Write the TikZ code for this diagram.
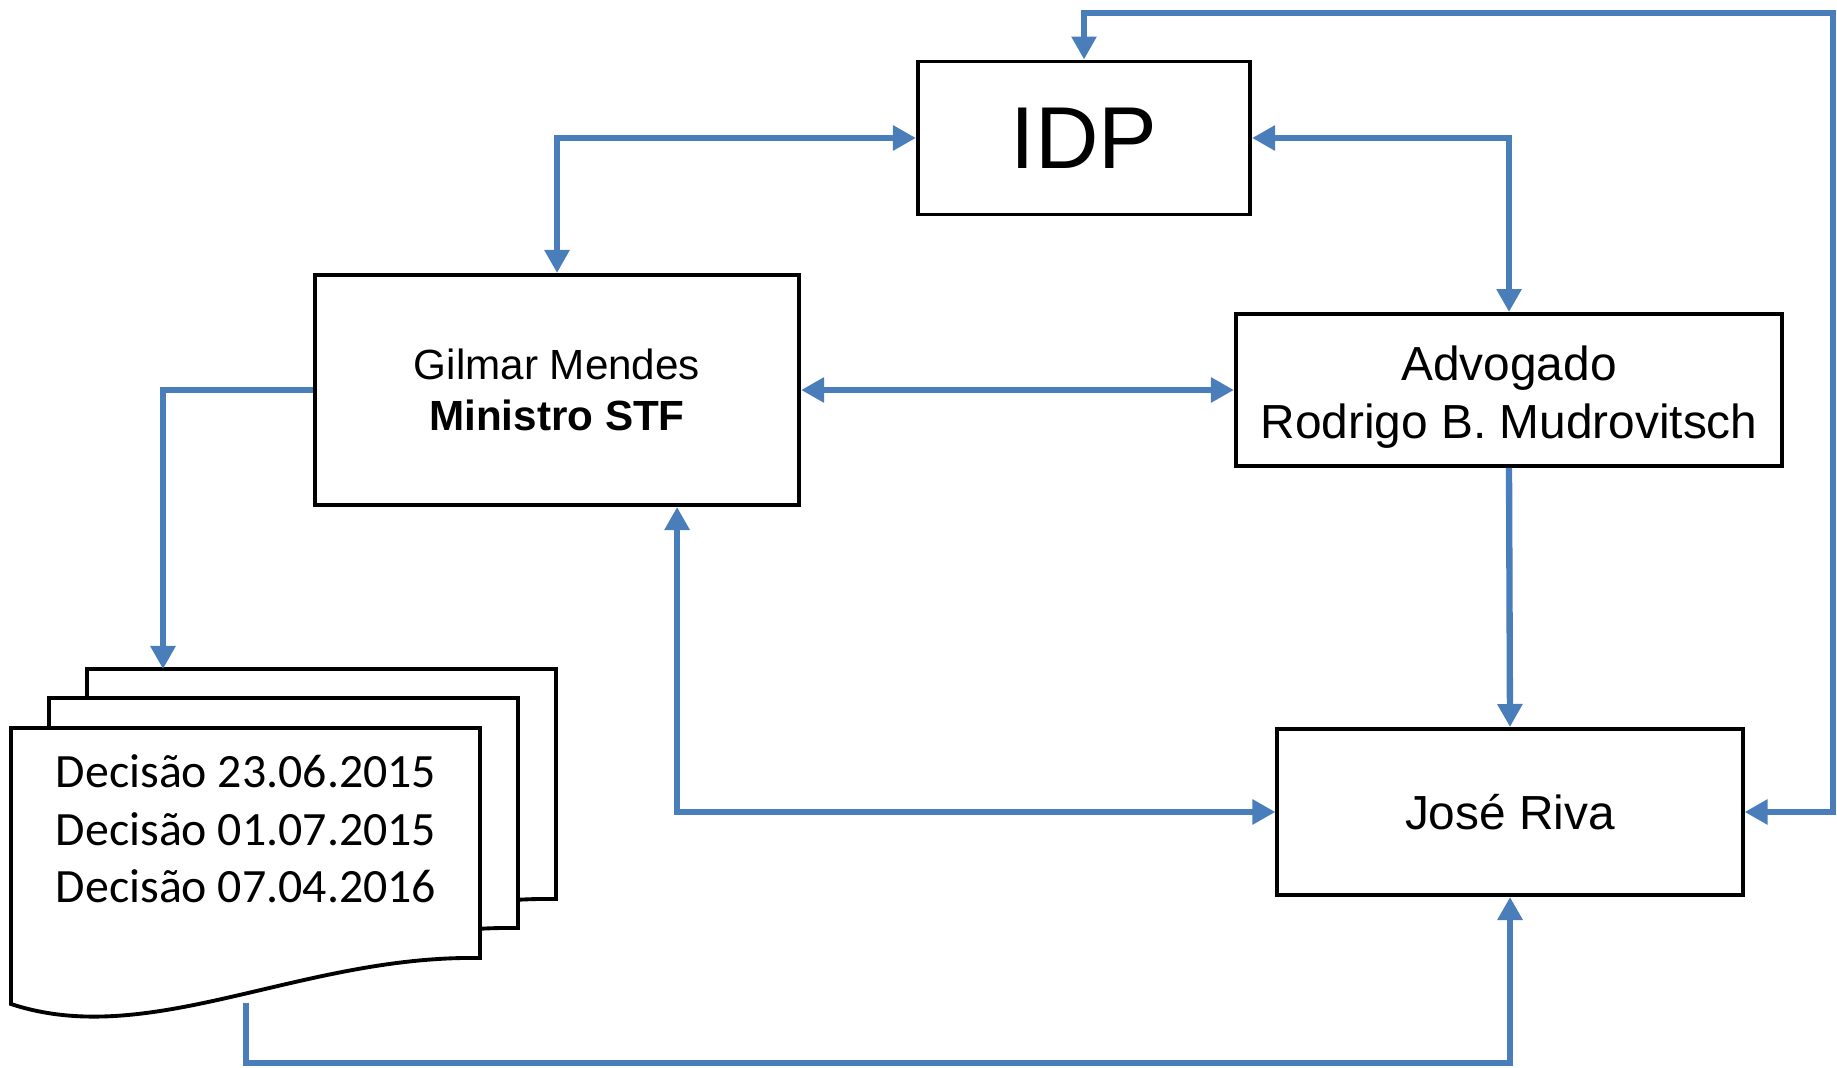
\documentclass[tikz,border=0pt]{standalone}
\usepackage{fontspec}
\setmainfont{Liberation Sans}
\newfontfamily\calib{Carlito}
\usetikzlibrary{arrows.meta}
\definecolor{linkblue}{HTML}{4A7EBB}
\tikzset{
  box/.style={draw=black,line width=1.1pt,fill=white,inner sep=2pt},
  sheet/.style={draw=black,line width=1.1pt,fill=white},
  link/.style={draw=linkblue,line width=1.8pt},
}

\begin{document}
\begin{tikzpicture}[x=0.01cm,y=-0.01cm,>={Triangle[length=0.23cm,width=0.24cm]}]
\useasboundingbox (0,0) rectangle (1837,1067);
% stack of decisions
\foreach \dx/\dy in {76/-59,38/-30,0/0}{
  \draw[sheet,shift={(\dx,\dy)}] (11,728) -- (480,728) -- (480,958)
    .. controls (300,955) and (150,1050) .. (11,1004) -- cycle;
}
\node[align=left,font=\calib\fontsize{13.6}{16.4}\selectfont] (dec) at (246,829)
  {Decisão 23.06.2015\\Decisão 01.07.2015\\Decisão 07.04.2016};
\coordinate (docTop) at (163,669);
\coordinate (docBot) at (246,1003);
\coordinate (botBend) at (246,1063);
% boxes
\node[box,minimum width=3.32cm,minimum height=1.53cm,font=\fontsize{25}{30}\selectfont] (idp) at (1084,138) {IDP};
\node[box,minimum width=4.84cm,minimum height=2.30cm,align=center,font=\fontsize{12}{14.6}\selectfont] (gil) at (557,390)
  {Gilmar Mendes\\\textbf{Ministro STF}};
\node[box,minimum width=5.46cm,minimum height=1.52cm] (adv) at (1509,390) {};
\node[align=center,font=\fontsize{13.6}{16.4}\selectfont] (advName) at (1509,397)
  {Advogado\\Rodrigo B. Mudrovitsch};
\node[box,minimum width=4.65cm,minimum height=1.66cm,font=\fontsize{13.6}{16.4}\selectfont] (jose) at (1510,812) {José Riva};
\coordinate (gilFoot) at ([xshift=1.2cm]gil.south);
\coordinate (topBend) at (1833,13);
% links
\draw[link,<->] (gil.north) |- (idp.west);
\draw[link,<->] (idp.east) -| (adv.north);
\draw[link,<->] (gil.east) -- (adv.west);
\draw[link,->] (gil.west) -| (docTop);
\draw[link,->] (adv.south) -- (jose.north);
\draw[link,<->] (gilFoot) |- (jose.west);
\draw[link,<->] (jose.east) -| (topBend) -| (idp.north);
\draw[link,->] (docBot) -- (botBend) -| (jose.south);
\end{tikzpicture}
\end{document}
